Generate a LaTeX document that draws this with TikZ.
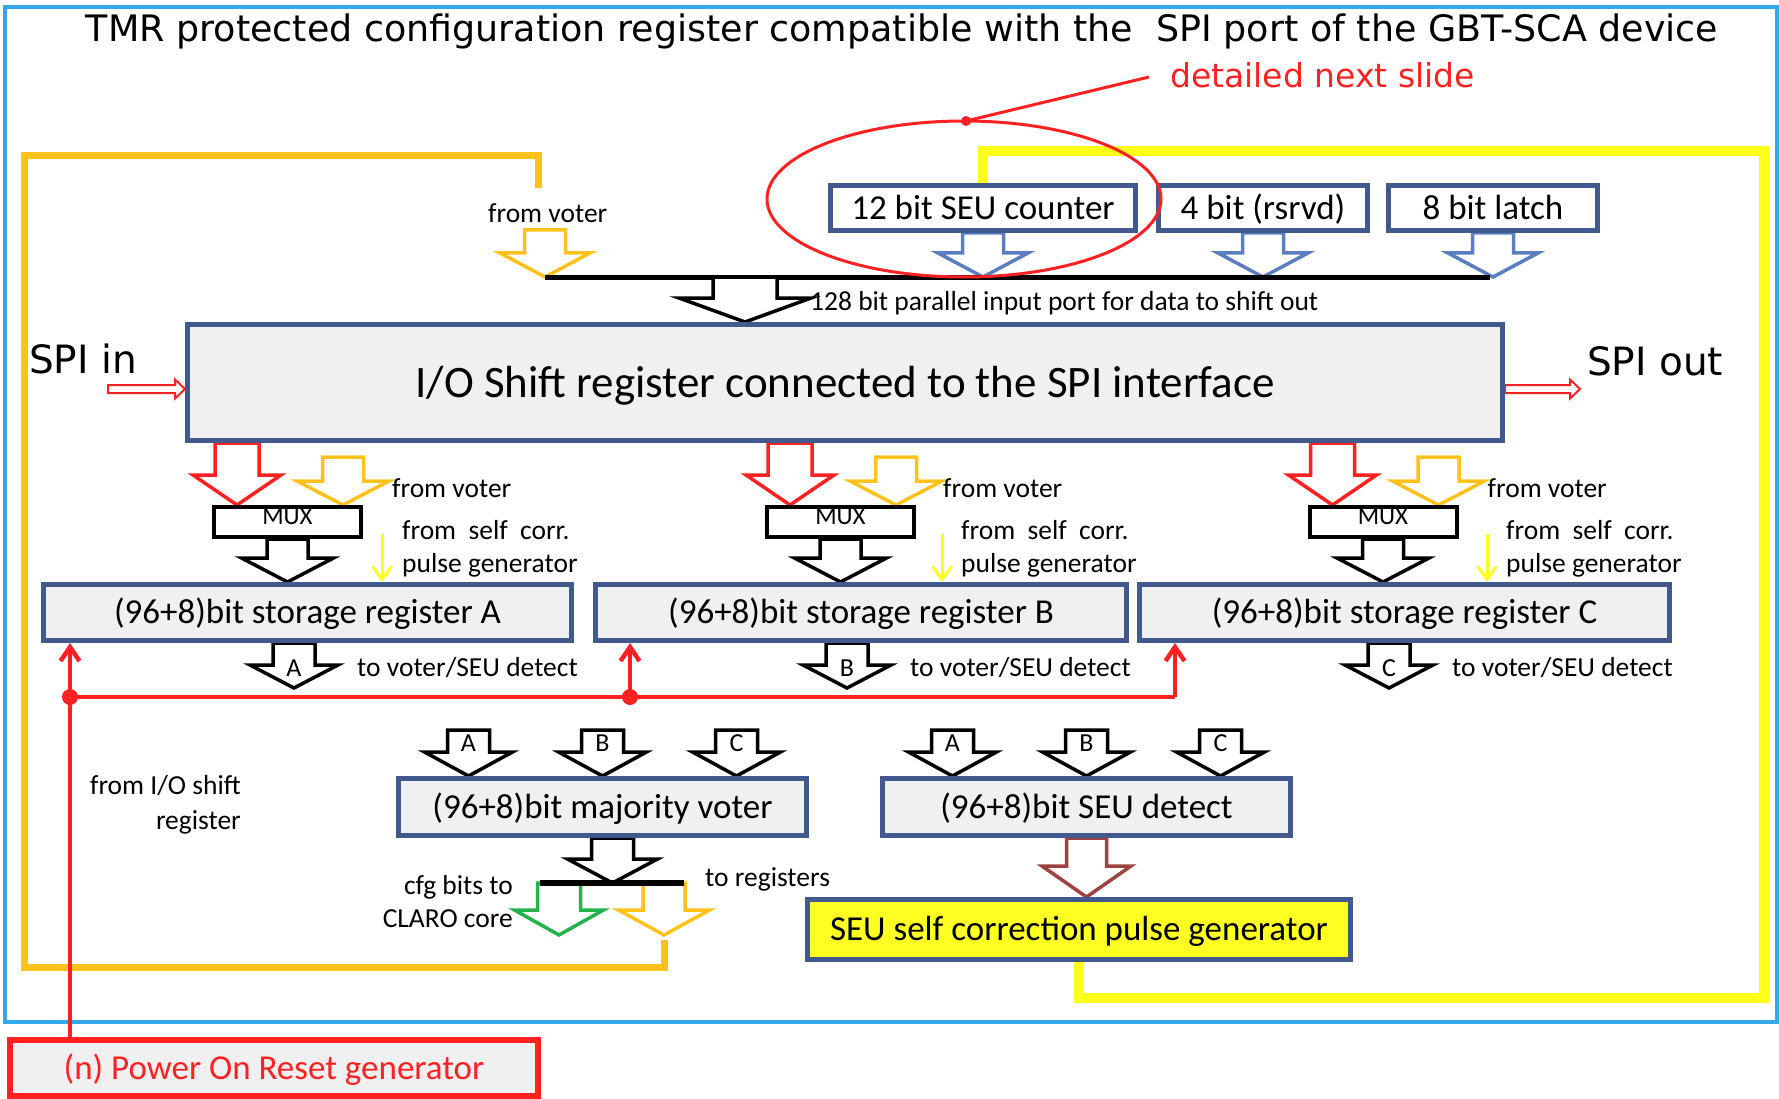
\documentclass[tikz,border=0pt]{standalone}
\usepackage{fontspec}
\setmainfont{Carlito}
\newfontfamily\handfont{DejaVu Sans}
\usetikzlibrary{calc,arrows.meta}
\pgfdeclarelayer{bg}
\pgfsetlayers{bg,main}

\definecolor{boxblue}{HTML}{41598C}
\definecolor{boxfill}{HTML}{F0F0F0}
\definecolor{frameblue}{HTML}{33A9E9}
\definecolor{orangeline}{HTML}{FFC21A}
\definecolor{yellowline}{HTML}{FFFF1A}
\definecolor{pulseyellow}{HTML}{FFFF22}
\definecolor{rstred}{HTML}{FF2121}
\definecolor{arrowblue}{HTML}{5A7EC0}
\definecolor{cfggreen}{HTML}{24B24A}
\definecolor{detbrown}{HTML}{9C4240}

% hollow block arrow pointing down:
% #1 style, #2 shaft half width, #3 head half width, #4 head length, #5 from, #6 to
\newcommand\dblock[6]{%
  \draw[blockarrow,#1] let \p1=(#5), \p2=(#6) in
    (\x1-#2pt,\y1) -- (\x1-#2pt,\y2+#4pt) -- (\x1-#3pt,\y2+#4pt) -- (\x1,\y2)
    -- (\x1+#3pt,\y2+#4pt) -- (\x1+#2pt,\y2+#4pt) -- (\x1+#2pt,\y1) -- cycle;}
% hollow block arrow pointing right, same arguments
\newcommand\rblock[6]{%
  \draw[blockarrow,#1] let \p1=(#5), \p2=(#6) in
    (\x1,\y1+#2pt) -- (\x2-#4pt,\y1+#2pt) -- (\x2-#4pt,\y1+#3pt) -- (\x2,\y1)
    -- (\x2-#4pt,\y1-#3pt) -- (\x2-#4pt,\y1-#2pt) -- (\x1,\y1-#2pt) -- cycle;}

\begin{document}
\begin{tikzpicture}[x=1pt,y=-1pt,
  box/.style={draw=boxblue, line width=5pt, fill=boxfill, inner sep=0pt,
    font=\fontsize{35}{42}\selectfont, text height=22.5pt, text depth=0pt},
  wbox/.style={box, fill=white},
  muxbox/.style={draw=black, line width=4pt, fill=white, inner sep=0pt,
    minimum width=147pt, minimum height=30pt},
  lbl/.style={inner sep=0pt, font=\fontsize{27.5}{35}\selectfont},
  letter/.style={inner sep=0pt, font=\fontsize{26}{30}\selectfont},
  hand/.style={inner sep=0pt, font=\handfont\fontsize{39}{46}\selectfont},
  blockarrow/.style={line width=3.5pt, fill=white, line join=miter, miter limit=10},
  selfarrow/.style={yellowline, line width=3pt, -{Straight Barb[length=13pt,width=19pt]}},
  resetline/.style={rstred, line width=4.5pt},
  resetarrow/.style={resetline, -{Straight Barb[length=14pt,width=19pt]}},
  loopline/.style={line width=#1, line join=miter, line cap=rect},
]
\useasboundingbox (0,0) rectangle (1779,1099);

% ---------------- blocks ----------------
\node[wbox, minimum width=305pt, minimum height=45pt] (ctr) at (983,208) {12 bit SEU counter};
\node[wbox, minimum width=209pt, minimum height=45pt] (rsv) at (1263,208) {4 bit (rsrvd)};
\node[wbox, minimum width=209pt, minimum height=45pt] (latch) at (1493,208) {8 bit latch};

\node[box, minimum width=1315pt, minimum height=116pt, font=\fontsize{45}{54}\selectfont,
  text height=29pt] (sr) at (845,382.5) {I/O Shift register connected to the SPI interface};

\node[muxbox] (muxA) at (287.5,522) {};
\node[muxbox] (muxB) at (840.5,522) {};
\node[muxbox] (muxC) at (1383,522) {};
\node[letter, font=\fontsize{25}{30}\selectfont] (muxAt) at (287.5,517) {MUX};
\node[letter, font=\fontsize{25}{30}\selectfont] (muxBt) at (840.5,517) {MUX};
\node[letter, font=\fontsize{25}{30}\selectfont] (muxCt) at (1383,517) {MUX};

\node[box, minimum width=528pt, minimum height=56pt] (regA) at (307.5,612.5) {(96+8)bit storage register A};
\node[box, minimum width=531pt, minimum height=56pt] (regB) at (861,612.5) {(96+8)bit storage register B};
\node[box, minimum width=530pt, minimum height=56pt] (regC) at (1404.5,612.5) {(96+8)bit storage register C};

\node[box, minimum width=408pt, minimum height=57pt] (voter) at (602.5,807) {(96+8)bit majority voter};
\node[box, minimum width=408pt, minimum height=57pt] (detect) at (1086.5,807) {(96+8)bit SEU detect};
\node[box, fill=pulseyellow, minimum width=543pt, minimum height=60pt] (pulse) at (1079,929.5)
  {SEU self correction pulse generator};

\node[draw=rstred, line width=6pt, fill=boxfill, inner sep=0pt, minimum width=528pt,
  minimum height=56pt, text=rstred, font=\fontsize{35}{42}\selectfont,
  text height=22.5pt, text depth=0pt] (por) at (274,1068)
  {(n) Power On Reset generator};

% ---------------- free ends of connectors ----------------
\coordinate (busL) at (545,277);
\coordinate (busR) at (1490,277);
\coordinate (busDrop) at (745,277);
\coordinate (fvTop) at (545,230);
\coordinate (spiInStart) at (108,389);
\coordinate (spiOutEnd) at (1580,389);
\coordinate (redA) at ($(muxA.north west)+(25,0)$);
\coordinate (redB) at ($(muxB.north west)+(25,0)$);
\coordinate (redC) at ($(muxC.north west)+(25,0)$);
\coordinate (orgA) at ($(muxA.north west)+(131,0)$);
\coordinate (orgB) at ($(muxB.north west)+(131,0)$);
\coordinate (orgC) at ($(muxC.north west)+(131,0)$);
\coordinate (selfA) at (382,534);
\coordinate (selfB) at (942,534);
\coordinate (selfC) at (1487,534);
\coordinate (outA) at ($(regA.south west)+(253,0)$);
\coordinate (outB) at ($(regB.south west)+(254,0)$);
\coordinate (outC) at ($(regC.south west)+(252,0)$);
\coordinate (rstA) at (70,697);
\coordinate (rstB) at (630,697);
\coordinate (rstC) at (1175,697);
\coordinate (vA) at ($(voter.north)+(-134,-46)$);
\coordinate (vB) at ($(voter.north)+(0,-46)$);
\coordinate (vC) at ($(voter.north)+(134,-46)$);
\coordinate (dA) at ($(detect.north)+(-134,-46)$);
\coordinate (dB) at ($(detect.north)+(0,-46)$);
\coordinate (dC) at ($(detect.north)+(134,-46)$);
\coordinate (vOut) at ($(voter.south)+(10,0)$);
\coordinate (vbusL) at (540,883);
\coordinate (vbusR) at (684,883);
\coordinate (cfgX) at (559,883);
\coordinate (regX) at (664,883);
\coordinate (tip) at (0,935);
\coordinate (ellTop) at (966,121);
\coordinate (ptrEnd) at (1149,77);

% ---------------- connectors ----------------
\begin{pgfonlayer}{bg}
  % outer frame
  \draw[frameblue, line width=3.5pt] (5,7) rectangle (1777,1022);

  % voter result fed back to the shift register input port
  \draw[orangeline, loopline=7pt] (664,943) -- (664,967) -- (24,967) -- (24,156)
    -- (538,156) -- (538,185);
  % self correction pulse to the SEU counter
  \draw[yellowline, loopline=10pt] (pulse.south) -- (pulse.south |- 0,998) -- (1764,998)
    -- (1764,151) -- (ctr.north |- 0,151) -- (ctr.north);

  % parallel input port
  \dblock{draw=orangeline}{20.5}{45}{24}{fvTop}{busL}
  \dblock{draw=arrowblue}{20.5}{45}{24}{ctr.south}{ctr.south |- busL}
  \dblock{draw=arrowblue}{20.5}{45}{24}{rsv.south}{rsv.south |- busL}
  \dblock{draw=arrowblue}{20.5}{45}{24}{latch.south}{latch.south |- busL}
  \draw[line width=5pt] (busL) -- (busR);
  \dblock{draw=black}{32}{66}{24}{busDrop}{busDrop |- sr.north}

  % serial in / out
  \rblock{draw=rstred, line width=2pt}{4}{9.5}{10}{spiInStart}{spiInStart -| sr.west}
  \rblock{draw=rstred, line width=2pt}{4}{9.5}{10}{sr.east |- spiOutEnd}{spiOutEnd}

  % shift register and voter into the multiplexers
  \dblock{draw=rstred}{22}{44}{30}{redA |- sr.south}{redA}
  \dblock{draw=rstred}{22}{44}{30}{redB |- sr.south}{redB}
  \dblock{draw=rstred}{22}{44}{30}{redC |- sr.south}{redC}
  \dblock{draw=orangeline}{20.5}{46}{24}{$(orgA)+(0,-48)$}{orgA}
  \dblock{draw=orangeline}{20.5}{46}{24}{$(orgB)+(0,-48)$}{orgB}
  \dblock{draw=orangeline}{20.5}{46}{24}{$(orgC)+(0,-48)$}{orgC}

  % multiplexers into the storage registers
  \dblock{draw=black}{20.5}{46}{24}{muxA.south}{muxA.south |- regA.north}
  \dblock{draw=black}{20.5}{46}{24}{muxB.south}{muxB.south |- regB.north}
  \dblock{draw=black}{20.5}{46}{24}{muxC.south}{muxC.south |- regC.north}
  \draw[selfarrow] (selfA) -- (selfA |- regA.north);
  \draw[selfarrow] (selfB) -- (selfB |- regB.north);
  \draw[selfarrow] (selfC) -- (selfC |- regC.north);

  % storage register outputs
  \dblock{draw=black}{21}{44}{23}{outA}{$(outA)+(0,45)$}
  \dblock{draw=black}{21}{44}{23}{outB}{$(outB)+(0,45)$}
  \dblock{draw=black}{21}{44}{23}{outC}{$(outC)+(0,45)$}

  % voter and SEU detect inputs
  \dblock{draw=black}{21}{44}{24}{vA}{vA |- voter.north}
  \dblock{draw=black}{21}{44}{24}{vB}{vB |- voter.north}
  \dblock{draw=black}{21}{44}{24}{vC}{vC |- voter.north}
  \dblock{draw=black}{21}{44}{24}{dA}{dA |- detect.north}
  \dblock{draw=black}{21}{44}{24}{dB}{dB |- detect.north}
  \dblock{draw=black}{21}{44}{24}{dC}{dC |- detect.north}

  % voter output split
  \dblock{draw=black}{21}{45}{24}{vOut}{vOut |- vbusL}
  \dblock{draw=cfggreen}{21.5}{44.5}{25}{cfgX}{cfgX |- tip}
  \dblock{draw=orangeline}{21}{45.5}{25}{regX}{regX |- tip}
  \draw[line width=6pt] (vbusL) -- (vbusR);

  % SEU detect to pulse generator
  \dblock{draw=detbrown}{20}{44.5}{31}{detect.south}{detect.south |- pulse.north}

  % power on reset
  \draw[resetline] (por.north -| rstA) -- (rstA) -- (rstC);
  \draw[resetarrow] (rstA) -- (rstA |- regA.south);
  \draw[resetarrow] (rstB) -- (rstB |- regB.south);
  \draw[resetarrow] (rstC) -- (rstC |- regC.south);
  \fill[rstred] (rstA) circle[radius=8pt];
  \fill[rstred] (rstB) circle[radius=8pt];
\end{pgfonlayer}

% ---------------- texts ----------------
\node[anchor=base, inner sep=0pt] (title) at (902,42)
  {\resizebox{1632pt}{!}{\handfont\fontsize{36}{40}\selectfont TMR protected configuration register compatible with the\ \ SPI port of the GBT-SCA device}};
\node[anchor=base west, inner sep=0pt, text=rstred, font=\handfont\fontsize{33}{40}\selectfont]
  (detail) at (1170,88) {detailed next slide};

\node[lbl, anchor=west] (fvT) at (488,213) {from voter};
\node[lbl, anchor=west] (portlbl) at (810,303) {128 bit parallel input port for data to shift out};
\node[hand, anchor=base west] (spiin) at (29,373) {SPI in};
\node[hand, anchor=base west] (spiout) at (1587,375) {SPI out};

\node[lbl, anchor=west] (fvA) at ($(muxA.north west)+(180,-17)$) {from voter};
\node[lbl, anchor=west] (fvB) at ($(muxB.north west)+(178,-17)$) {from voter};
\node[lbl, anchor=west] (fvC) at ($(muxC.north west)+(180,-17)$) {from voter};
\node[lbl, anchor=west] (scA) at (402,530) {from\ \ self\ \ corr.};
\node[lbl, anchor=west] (scB) at (961,530) {from\ \ self\ \ corr.};
\node[lbl, anchor=west] (scC) at (1506,530) {from\ \ self\ \ corr.};
\node[lbl, anchor=west] (pgA) at (402,565) {pulse generator};
\node[lbl, anchor=west] (pgB) at (961,565) {pulse generator};
\node[lbl, anchor=west] (pgC) at (1506,565) {pulse generator};

\node[letter] (oAt) at ($(outA)+(0,25)$) {A};
\node[letter] (oBt) at ($(outB)+(0,25)$) {B};
\node[letter] (oCt) at ($(outC)+(0,25)$) {C};
\node[lbl, anchor=west] (tvA) at ($(outA)+(63,25)$) {to voter/SEU detect};
\node[lbl, anchor=west] (tvB) at ($(outB)+(63,25)$) {to voter/SEU detect};
\node[lbl, anchor=west] (tvC) at ($(outC)+(63,25)$) {to voter/SEU detect};

\node[letter] (vAt) at ($(vA)+(0,13)$) {A};
\node[letter] (vBt) at ($(vB)+(0,13)$) {B};
\node[letter] (vCt) at ($(vC)+(0,13)$) {C};
\node[letter] (dAt) at ($(dA)+(0,13)$) {A};
\node[letter] (dBt) at ($(dB)+(0,13)$) {B};
\node[letter] (dCt) at ($(dC)+(0,13)$) {C};

\node[lbl, align=right, anchor=east] (ioshift) at (241,804.5) {from I/O shift\\register};
\node[lbl, align=right, anchor=east, font=\fontsize{27.5}{33}\selectfont] (cfg) at (513,901.5)
  {cfg bits to\\CLARO core};
\node[lbl, anchor=west] (toreg) at (705,879) {to registers};

% ---------------- annotation ----------------
\draw[rstred, line width=3pt] (964,199) ellipse [x radius=197pt, y radius=78pt];
\draw[rstred, line width=3pt] (ellTop) -- (ptrEnd);
\fill[rstred] (ellTop) circle[radius=5pt];
\end{tikzpicture}
\end{document}
